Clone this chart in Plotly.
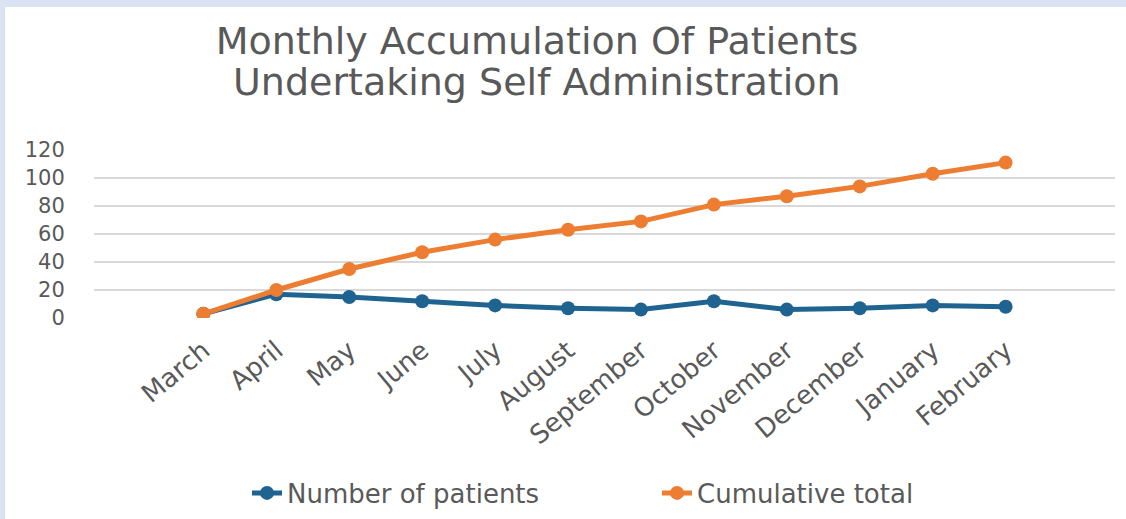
import plotly.graph_objects as go

months = ["March", "April", "May", "June", "July", "August", "September",
          "October", "November", "December", "January", "February"]
number_of_patients = [3, 17, 15, 12, 9, 7, 6, 12, 6, 7, 9, 8]
cumulative_total = [3, 20, 35, 47, 56, 63, 69, 81, 87, 94, 103, 111]
y_ticks = [0, 20, 40, 60, 80, 100, 120]

title_line1 = "Monthly Accumulation Of Patients"
title_line2 = "Undertaking Self Administration"

FONT = "DejaVu Sans"
GREY = "#595959"
BLUE = "#1f6390"
ORANGE = "#ed7d31"
FRAME = "#dae3f3"

fig = go.Figure()
fig.add_trace(go.Scatter(
    x=months, y=number_of_patients, name="Number of patients",
    mode="lines+markers", line=dict(color=BLUE, width=5),
    marker=dict(color=BLUE, size=14)))
fig.add_trace(go.Scatter(
    x=months, y=cumulative_total, name="Cumulative total",
    mode="lines+markers", line=dict(color=ORANGE, width=5),
    marker=dict(color=ORANGE, size=14)))

L, R, T, B = 94, 11, 150, 201
W, H = 1126, 519
pw, ph = W - L - R, H - T - B

def px_x(p):
    return (p - L) / pw

def px_y(p):
    return (H - B - p) / ph

fig.update_layout(
    width=W, height=H,
    margin=dict(l=L, r=R, t=T, b=B, autoexpand=False),
    paper_bgcolor="white", plot_bgcolor="white",
    font=dict(family=FONT, color=GREY),
    title=dict(text=title_line1, x=537 / W, xanchor="center",
               y=1 - 41 / H, yanchor="middle", yref="container",
               font=dict(family=FONT, size=38, color=GREY)),
    annotations=[dict(text=title_line2, x=px_x(537), y=px_y(82),
                      xref="paper", yref="paper", xanchor="center",
                      yanchor="middle", showarrow=False,
                      font=dict(family=FONT, size=38, color=GREY))],
    shapes=[
        dict(type="rect", xref="paper", yref="paper", layer="below",
             x0=px_x(-5), x1=px_x(W + 5), y0=px_y(7), y1=px_y(-5),
             fillcolor=FRAME, line=dict(width=0)),
        dict(type="rect", xref="paper", yref="paper", layer="below",
             x0=px_x(-5), x1=px_x(5), y0=px_y(H + 5), y1=px_y(-5),
             fillcolor=FRAME, line=dict(width=0)),
    ],
    showlegend=True,
    legend=dict(orientation="h", x=px_x(657), y=px_y(493),
                xanchor="center", yanchor="middle", entrywidth=365,
                font=dict(family=FONT, size=26, color=GREY),
                bgcolor="rgba(0,0,0,0)"),
    xaxis=dict(type="category", range=[-1.5, 12.5], showgrid=False,
               showline=False, ticks="outside", ticklen=6,
               tickcolor="rgba(0,0,0,0)", tickangle=-40,
               tickfont=dict(family=FONT, size=26, color=GREY)),
    yaxis=dict(range=[0, 120], tickvals=y_ticks, showgrid=True,
               gridcolor="#d9d9d9", gridwidth=1.5, zeroline=False,
               ticks="outside", ticklen=24, tickcolor="rgba(0,0,0,0)",
               tickfont=dict(family=FONT, size=21, color=GREY)),
)

fig.write_html("out.html", config={"displayModeBar": False},
               post_script="document.body.style.margin='0';")
